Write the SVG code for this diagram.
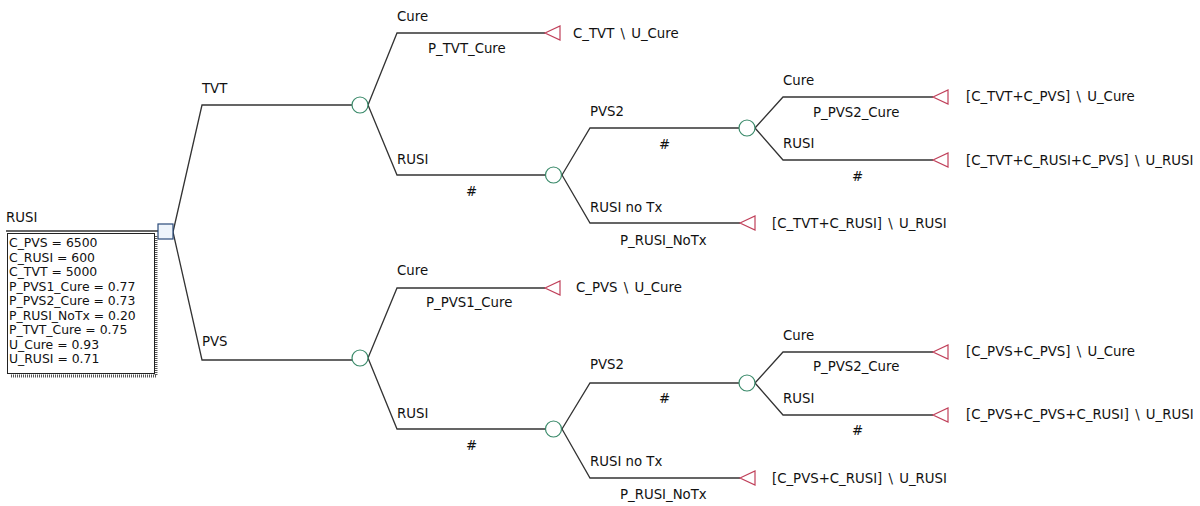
<svg xmlns="http://www.w3.org/2000/svg" width="1200" height="506" viewBox="0 0 1200 506">
<style>
text{font-family:"DejaVu Sans","Liberation Sans",sans-serif;font-size:13.3px;fill:#111}
#variables text{font-size:12.4px}
.tt{word-spacing:2px}
.br{fill:none;stroke:#333;stroke-width:1.3}
.ch{fill:#fff;stroke:#3a8a6a;stroke-width:1.2}
.tm{fill:#fff;stroke:#c0405a;stroke-width:1.2}
.dc{fill:#eef4fb;stroke:#2a4a7a;stroke-width:1.2}
</style>
<rect width="1200" height="506" fill="#fff"/>
<g id="connectors">
<path class="br" d="M6 231H158"/>
<path class="br" d="M173 232L202 105H352"/>
<path class="br" d="M173 232L202 360H352"/>
<path class="br" d="M368 105L397 33H545"/>
<path class="br" d="M368 105L397 175H545"/>
<path class="br" d="M562 175L590 128H739"/>
<path class="br" d="M562 175L590 223H740"/>
<path class="br" d="M755 128L783 97H933"/>
<path class="br" d="M755 128L783 160H933"/>
<path class="br" d="M368 358L397 288H545"/>
<path class="br" d="M368 358L397 429H545"/>
<path class="br" d="M562 429L590 383H739"/>
<path class="br" d="M562 429L590 478H740"/>
<path class="br" d="M755 383L783 352H933"/>
<path class="br" d="M755 383L783 415H933"/>
</g>
<g id="branch-labels">
<text x="202" y="93">TVT</text>
<text x="202" y="346">PVS</text>
<text x="397" y="21">Cure</text>
<text x="428" y="53">P_TVT_Cure</text>
<text x="397" y="164">RUSI</text>
<text x="466" y="196">#</text>
<text x="590" y="116">PVS2</text>
<text x="659" y="149">#</text>
<text x="590" y="212">RUSI no Tx</text>
<text x="620" y="245">P_RUSI_NoTx</text>
<text x="783" y="85">Cure</text>
<text x="813" y="117">P_PVS2_Cure</text>
<text x="783" y="148">RUSI</text>
<text x="852" y="181">#</text>
<text x="397" y="275">Cure</text>
<text x="426" y="307">P_PVS1_Cure</text>
<text x="397" y="418">RUSI</text>
<text x="466" y="450">#</text>
<text x="590" y="369">PVS2</text>
<text x="659" y="403">#</text>
<text x="590" y="466">RUSI no Tx</text>
<text x="620" y="499">P_RUSI_NoTx</text>
<text x="783" y="340">Cure</text>
<text x="813" y="371">P_PVS2_Cure</text>
<text x="783" y="403">RUSI</text>
<text x="852" y="435">#</text>
</g>
<g id="root">
<text x="6" y="222">RUSI</text>
<rect x="158" y="224" width="15" height="15" class="dc"/>
</g>
<g id="variables">
<path d="M156 236V376H11" fill="none" stroke="#555" stroke-width="3" stroke-dasharray="1 1"/>
<rect x="7.5" y="233.5" width="147" height="140" fill="#fff" stroke="#222" stroke-width="1"/>
<text x="9" y="247">C_PVS = 6500</text>
<text x="9" y="261.5">C_RUSI = 600</text>
<text x="9" y="276">C_TVT = 5000</text>
<text x="9" y="290.5">P_PVS1_Cure = 0.77</text>
<text x="9" y="305">P_PVS2_Cure = 0.73</text>
<text x="9" y="319.5">P_RUSI_NoTx = 0.20</text>
<text x="9" y="334">P_TVT_Cure = 0.75</text>
<text x="9" y="348.5">U_Cure = 0.93</text>
<text x="9" y="363">U_RUSI = 0.71</text>
</g>
<g id="chance-tvt"><circle cx="360" cy="105" r="8" class="ch"/></g>
<g id="chance-pvs"><circle cx="360" cy="358" r="8" class="ch"/></g>
<g id="chance-tvt-rusi"><circle cx="553.5" cy="175" r="8" class="ch"/></g>
<g id="chance-tvt-pvs2"><circle cx="747" cy="128" r="8" class="ch"/></g>
<g id="chance-pvs-rusi"><circle cx="553.5" cy="429" r="8" class="ch"/></g>
<g id="chance-pvs-pvs2"><circle cx="747" cy="383" r="8" class="ch"/></g>
<g id="term1"><path class="tm" d="M545 33L560 26V40Z"/><text class="tt" x="573" y="38">C_TVT \ U_Cure</text></g>
<g id="term2"><path class="tm" d="M933 97L948 90V104Z"/><text class="tt" x="966" y="101">[C_TVT+C_PVS] \ U_Cure</text></g>
<g id="term3"><path class="tm" d="M933 160L948 153V167Z"/><text class="tt" x="966" y="165">[C_TVT+C_RUSI+C_PVS] \ U_RUSI</text></g>
<g id="term4"><path class="tm" d="M740 223L755 216V230Z"/><text class="tt" x="772" y="228">[C_TVT+C_RUSI] \ U_RUSI</text></g>
<g id="term5"><path class="tm" d="M545 288L560 281V295Z"/><text class="tt" x="576" y="292">C_PVS \ U_Cure</text></g>
<g id="term6"><path class="tm" d="M933 352L948 345V359Z"/><text class="tt" x="966" y="356">[C_PVS+C_PVS] \ U_Cure</text></g>
<g id="term7"><path class="tm" d="M933 415L948 408V422Z"/><text class="tt" x="966" y="419">[C_PVS+C_PVS+C_RUSI] \ U_RUSI</text></g>
<g id="term8"><path class="tm" d="M740 478L755 471V485Z"/><text class="tt" x="772" y="483">[C_PVS+C_RUSI] \ U_RUSI</text></g>
</svg>
